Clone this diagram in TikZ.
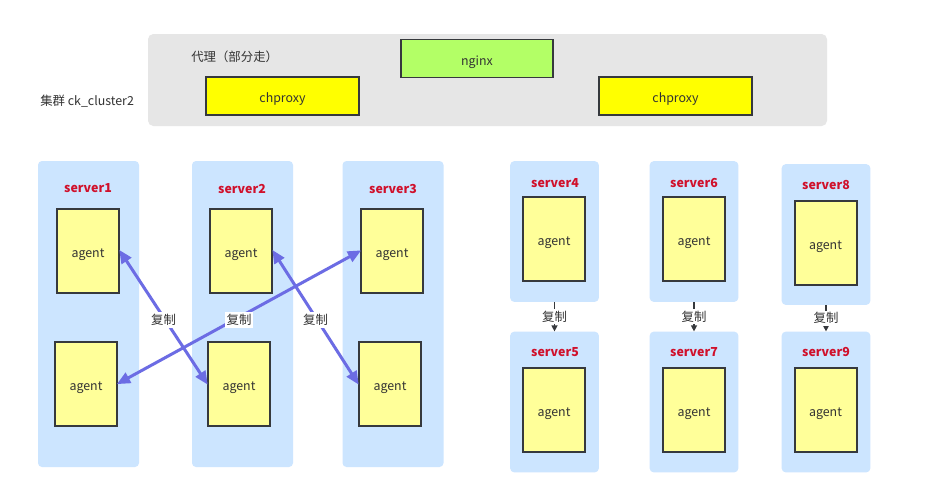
\documentclass[tikz,border=0pt]{standalone}
\usepackage{fontspec}
\setmainfont{Noto Sans CJK SC}
\usetikzlibrary{arrows.meta}
\definecolor{graybg}{HTML}{E6E6E6}
\definecolor{colbg}{HTML}{CCE5FF}
\definecolor{agentfill}{HTML}{FFFF99}
\definecolor{boxline}{HTML}{36393D}
\definecolor{proxyfill}{HTML}{FFFF00}
\definecolor{nginxfill}{HTML}{B3FF66}
\definecolor{srvred}{HTML}{D0102B}
\definecolor{arrowblue}{HTML}{6C6CE4}
\definecolor{txt}{HTML}{333333}
\newcommand\boxtxt[1]{\raisebox{-5pt}[0pt][0pt]{#1}}
\tikzset{
  panel/.style={fill=graybg, draw=none, rounded corners=4pt, minimum width=509.25pt, minimum height=69pt, inner sep=0pt},
  column/.style={fill=colbg, draw=none, rounded corners=3pt, minimum width=75.75pt, minimum height=229.5pt, inner sep=0pt},
  smallcol/.style={fill=colbg, draw=none, rounded corners=3pt, minimum width=66.5pt, minimum height=105.5pt, inner sep=0pt},
  agentbox/.style={fill=agentfill, draw=boxline, line width=1.5pt, minimum width=46.5pt, minimum height=63pt, inner sep=0pt, font=\fontsize{9.3}{11}\selectfont, text=txt},
  proxybox/.style={fill=proxyfill, draw=boxline, line width=1.5pt, minimum width=114.75pt, minimum height=28.5pt, inner sep=0pt, font=\fontsize{9.3}{11}\selectfont, text=txt},
  nginxbox/.style={fill=nginxfill, draw=boxline, line width=1.3pt, minimum width=114pt, minimum height=28.5pt, inner sep=0pt, font=\fontsize{9.3}{11}\selectfont, text=txt},
  srvlabel/.style={font=\fontsize{9.3}{11}\selectfont\bfseries, text=srvred, inner sep=0pt},
  plain/.style={font=\fontsize{9.3}{11}\selectfont, text=txt, inner sep=0pt},
  repl/.style={<->, >={Triangle[length=10pt,width=8.5pt]}, draw=arrowblue, line width=2.25pt, shorten <=-1pt, shorten >=-1pt},
  repllabel/.style={fill=white, font=\fontsize{9.3}{11}\selectfont, text=txt, inner sep=1.5pt},
  vrepl/.style={-{Triangle[length=4.5pt,width=4.5pt]}, draw=boxline, line width=0.9pt},
}
\begin{document}
\begin{tikzpicture}[x=0.75pt,y=-0.75pt]
\useasboundingbox (0,0) rectangle (927,497);
\fill[white] (0,0) rectangle (927,497);

% top panel
\node[panel] (panel) at (487.5,80) {};
\node[nginxbox] (nginx) at (477,58.5) {\boxtxt{nginx}};
\node[proxybox] (cp1) at (282.5,96) {\boxtxt{chproxy}};
\node[proxybox] (cp2) at (675.5,96) {\boxtxt{chproxy}};
\node[plain, anchor=west] (proxytitle) at (191,56.5) {代理（部分走）};
\node[plain, anchor=west] (cluster) at (40,101.5) {集群 ck\_cluster2};

% left three columns
\node[column] (c1) at (88.5,314) {};
\node[column] (c2) at (242.5,314) {};
\node[column] (c3) at (393,314) {};
\node[srvlabel] (l1) at (88,188.5) {server1};
\node[srvlabel] (l2) at (242,188.5) {server2};
\node[srvlabel] (l3) at (393,188.5) {server3};
\node[agentbox] (a1t) at (88,251) {\boxtxt{agent}};
\node[agentbox] (a1b) at (86,383.5) {\boxtxt{agent}};
\node[agentbox] (a2t) at (241,251) {\boxtxt{agent}};
\node[agentbox] (a2b) at (239,383.5) {\boxtxt{agent}};
\node[agentbox] (a3t) at (392,251) {\boxtxt{agent}};
\node[agentbox] (a3b) at (390,383.5) {\boxtxt{agent}};

\draw[repl] (a1t.east) -- node[repllabel, yshift=-2pt] (r1) {复制} (a2b.west);
\draw[repl] (a3t.west) -- node[repllabel, yshift=-2pt] (r2) {复制} (a1b.east);
\draw[repl] (a2t.east) -- node[repllabel, yshift=-2pt] (r3) {复制} (a3b.west);

% right pairs
\node[smallcol] (c4) at (554.5,231.5) {};
\node[smallcol] (c5) at (554.5,402) {};
\node[smallcol] (c6) at (694,231.5) {};
\node[smallcol] (c7) at (694,402) {};
\node[smallcol] (c8) at (826,234.5) {};
\node[smallcol] (c9) at (826,402) {};
\node[srvlabel] (l4) at (555,183) {server4};
\node[srvlabel] (l5) at (555,352) {server5};
\node[srvlabel] (l6) at (694,183) {server6};
\node[srvlabel] (l7) at (694,352) {server7};
\node[srvlabel] (l8) at (826,185) {server8};
\node[srvlabel] (l9) at (826,352) {server9};
\node[agentbox] (a4) at (554,239) {\boxtxt{agent}};
\node[agentbox] (a5) at (554,410) {\boxtxt{agent}};
\node[agentbox] (a6) at (694,239) {\boxtxt{agent}};
\node[agentbox] (a7) at (694,410) {\boxtxt{agent}};
\node[agentbox] (a8) at (825.5,242.5) {\boxtxt{agent}};
\node[agentbox] (a9) at (825.5,410) {\boxtxt{agent}};

\draw[vrepl] (c4.south) -- node[repllabel] (r4) {复制} (c5.north);
\draw[vrepl] (c6.south) -- node[repllabel] (r5) {复制} (c7.north);
\draw[vrepl] (c8.south) -- node[repllabel] (r6) {复制} (c9.north);
\end{tikzpicture}
\end{document}
